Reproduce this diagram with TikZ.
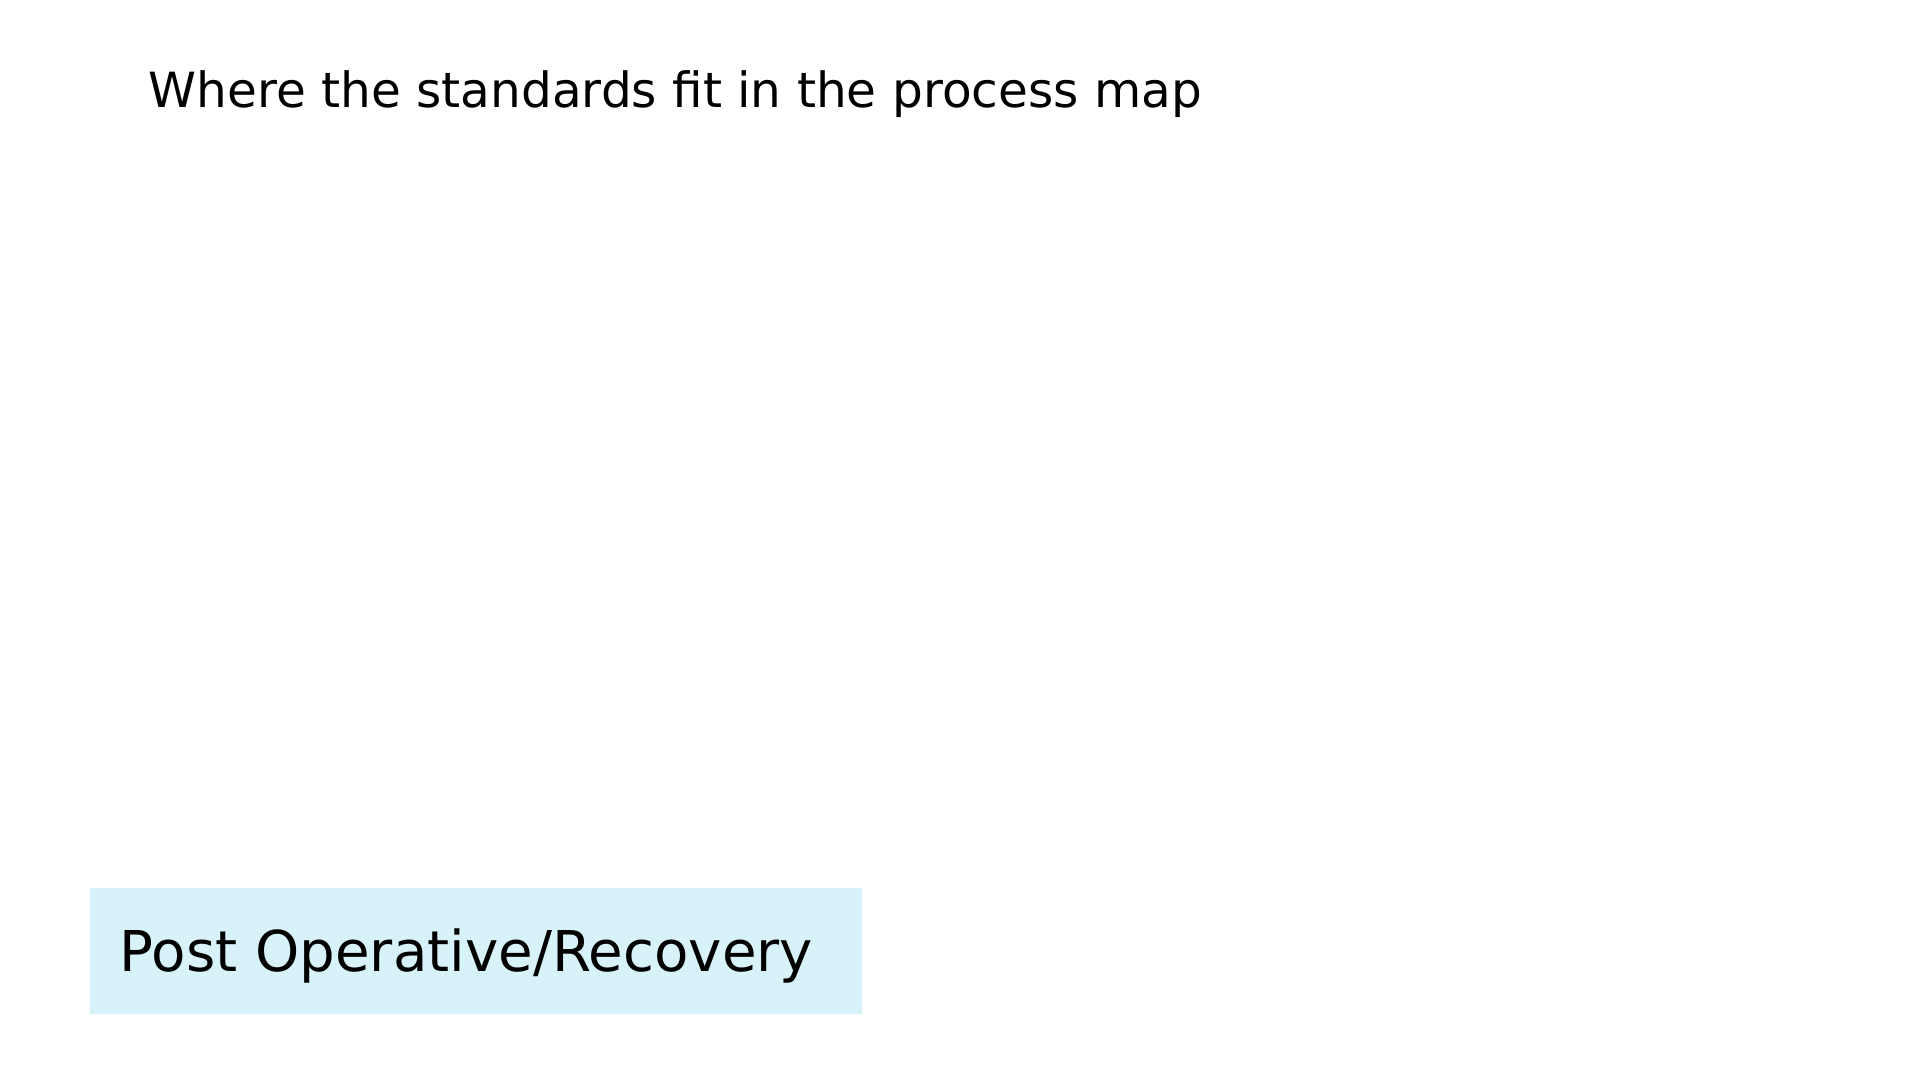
\documentclass[tikz,border=0pt]{standalone}
\usepackage{fontspec}
\setmainfont{DejaVu Sans}
\definecolor{boxc}{HTML}{D7F2F8}
\begin{document}
\begin{tikzpicture}[x=0.01cm,y=-0.01cm]
\useasboundingbox (0,0) rectangle (1920,1080);
\node[anchor=base west,inner sep=0,font=\fontsize{13.8pt}{17pt}\selectfont] (title) at (148,108) {Where the standards fit in the process map};
\fill[boxc] (90,888) rectangle (862,1014);
\node[anchor=base west,inner sep=0,font=\fontsize{16pt}{20pt}\selectfont] (post) at (119,972) {Post Operative/Recovery};
\end{tikzpicture}
\end{document}
